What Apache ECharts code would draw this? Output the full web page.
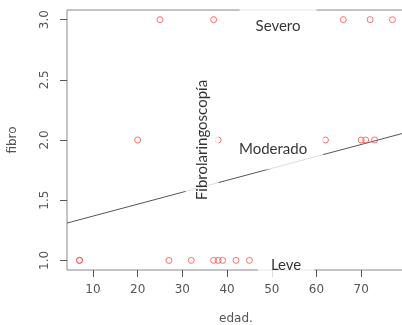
<!DOCTYPE html>
<html>
<head>
<meta charset="utf-8">
<script src="https://cdn.jsdelivr.net/npm/echarts@6/dist/echarts.min.js"></script>
<style>
  html, body { margin: 0; padding: 0; background: #fff; }
  #chart { width: 402px; height: 325px; }
</style>
</head>
<body>
<div id="chart"></div>
<script>
// edad / fibro por nivel
var edadSevero = [25, 37, 66, 72, 77];
var edadModerado = [20, 38, 62, 70, 71, 73];
var edadLeve = [7, 7, 27, 32, 37, 38, 39, 42, 45];
var nivelSevero = 3, nivelModerado = 2, nivelLeve = 1;

// recta de regresion (extremos leidos)
var fitEdad = [4.2, 79.8];
var fitFibro = [1.31, 2.06];

var xTicks = [10, 20, 30, 40, 50, 60, 70];
var yTicks = [1.0, 1.5, 2.0, 2.5, 3.0];

// etiquetas: [edad, fibro, texto]
var etiquetas = [
  [51.4, 2.945, 'Severo'],
  [50.3, 1.925, 'Moderado'],
  [53.2, 0.96, 'Leve']
];
var etiquetaVertical = [[34.4, 2.0, 'Fibrolaringoscopía']];
// relleno blanco de cada caja
var rellenos = [[13, 16], [13, 16], [8, 13]];

var puntos = [];
edadSevero.forEach(function (e) { puntos.push([e, nivelSevero]); });
edadModerado.forEach(function (e) { puntos.push([e, nivelModerado]); });
edadLeve.forEach(function (e) { puntos.push([e, nivelLeve]); });

var chart = echarts.init(document.getElementById('chart'), null, { renderer: 'canvas' });

var gris = '#555';
var textoEje = { color: gris, fontFamily: 'DejaVu Sans', fontSize: 12 };

var option = {
  animation: false,
  grid: {
    left: 67, top: 10, width: 338, height: 260,
    containLabel: false, outerBoundsMode: 'none',
    show: true, borderColor: '#888', borderWidth: 1
  },
  xAxis: {
    type: 'value', min: 4.2, max: 79.8,
    name: 'edad.', nameLocation: 'middle', nameGap: 43,
    nameTextStyle: textoEje,
    axisLine: { show: false },
    splitLine: { show: false },
    axisTick: { show: true, length: 7, lineStyle: { color: gris }, customValues: xTicks },
    axisLabel: Object.assign({ margin: 14, customValues: xTicks }, textoEje)
  },
  yAxis: {
    type: 'value', min: 0.92, max: 3.08,
    name: 'fibro', nameLocation: 'middle', nameGap: 48,
    nameTextStyle: textoEje,
    axisLine: { show: false },
    splitLine: { show: false },
    axisTick: { show: true, length: 7, lineStyle: { color: gris }, customValues: yTicks },
    axisLabel: Object.assign({
      rotate: 90, margin: 16, customValues: yTicks,
      formatter: function (v) { return v.toFixed(1); }
    }, textoEje)
  },
  series: [
    {
      type: 'line',
      data: fitEdad.map(function (e, i) { return [e, fitFibro[i]]; }),
      symbol: 'none', silent: true, z: 2,
      lineStyle: { color: '#555', width: 1 }
    },
    {
      type: 'scatter',
      data: puntos,
      symbol: 'circle', symbolSize: 6, z: 3,
      itemStyle: { color: 'rgba(0,0,0,0)', borderColor: '#ff4a4a', borderWidth: 1 }
    },
    {
      type: 'scatter',
      data: etiquetas.map(function (d, i) {
        return { value: d, label: { padding: rellenos[i] } };
      }),
      symbolSize: 0, z: 5, silent: true,
      label: {
        show: true, position: 'inside',
        formatter: function (p) { return p.value[2]; },
        color: '#000', fontFamily: 'Lato', fontSize: 15,
        backgroundColor: '#fff'
      }
    },
    {
      type: 'scatter',
      data: etiquetaVertical,
      symbolSize: 0, z: 5, silent: true,
      label: {
        show: true, position: 'inside', rotate: 90,
        formatter: function (p) { return p.data[2]; },
        color: '#000', fontFamily: 'Lato', fontSize: 15,
        backgroundColor: '#fff', padding: [9, 12]
      }
    }
  ]
};

chart.setOption(option);
</script>
</body>
</html>
